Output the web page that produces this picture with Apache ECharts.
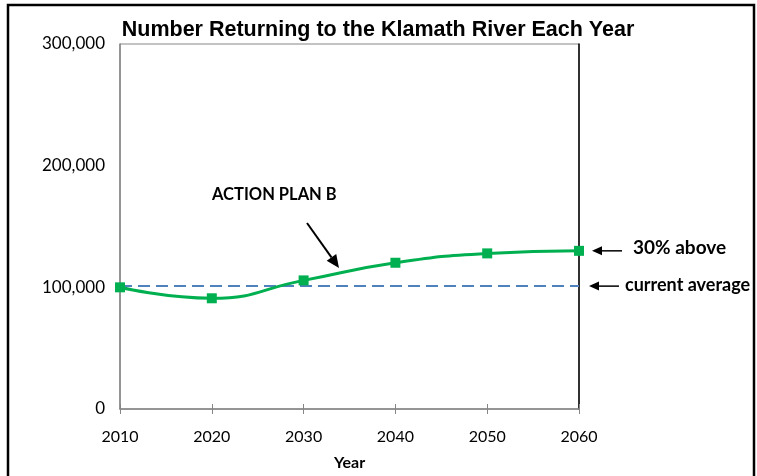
<!DOCTYPE html>
<html>
<head>
<meta charset="utf-8">
<script src="https://cdn.jsdelivr.net/npm/echarts@6/dist/echarts.min.js"></script>
<style>
    html, body { margin: 0; padding: 0; background: #fff; }
    #chart { width: 757px; height: 476px; }
</style>
</head>
<body>
<div id="chart"></div>
<script>
// values
const years = [2010, 2020, 2030, 2040, 2050, 2060];
const returning = [100000, 91000, 105700, 120200, 127900, 130000];
const currentAverage = [101000, 101000, 101000, 101000, 101000, 101000];
const yTicks = [0, 100000, 200000, 300000];

const labelFont = "Lato, 'Open Sans', sans-serif";
const colorGreen = "#00b050";
const colorBlue = "#4f81bd";
const colorAxis = "#868686";

const chart = echarts.init(document.getElementById("chart"));

function fmt(v) {
    return v.toLocaleString("en-US");
}

chart.setOption({
    animation: false,
    title: {
        text: "Number Returning to the Klamath River Each Year",
        left: 373,
        textAlign: "center",
        top: 14,
        textStyle: {
            fontFamily: "'Liberation Sans', Arial, sans-serif",
            fontSize: 21.5,
            fontWeight: "bold",
            color: "#000"
        }
    },
    grid: {
        left: 120,
        right: 178,
        top: 44,
        bottom: 66,
        show: true,
        borderColor: colorAxis,
        borderWidth: 1
    },
    xAxis: [
        {
            type: "value",
            min: 2010,
            max: 2060,
            interval: 10,
            name: "Year",
            nameLocation: "middle",
            nameGap: 46,
            nameTextStyle: {
                fontFamily: labelFont,
                fontSize: 16,
                fontWeight: "bold",
                color: "#000"
            },
            axisLine: { lineStyle: { color: colorAxis, width: 1.5 } },
            axisTick: { show: true, length: 5, lineStyle: { color: colorAxis } },
            axisLabel: {
                margin: 20,
                fontFamily: labelFont,
                fontSize: 16,
                color: "#000",
                formatter: v => String(v)
            },
            splitLine: { show: false }
        },
        {
            type: "value",
            position: "bottom",
            min: 2010,
            max: 2060,
            interval: 10,
            axisLine: { show: false },
            axisTick: { show: true, inside: true, length: 5, lineStyle: { color: colorAxis } },
            axisLabel: { show: false },
            splitLine: { show: false }
        }
    ],
    yAxis: [
        {
            type: "value",
            min: 0,
            max: 300000,
            interval: 100000,
            axisLine: { show: true, lineStyle: { color: colorAxis, width: 1.5 } },
            axisTick: { show: false },
            axisLabel: {
                margin: 15,
                fontFamily: labelFont,
                fontSize: 17,
                color: "#000",
                formatter: v => yTicks.includes(v) ? fmt(v) : ""
            },
            splitLine: { show: false }
        },
        {
            type: "value",
            position: "right",
            min: 0,
            max: 300000,
            interval: 100000,
            axisLine: { show: true, lineStyle: { color: "#000", width: 1.5 } },
            axisTick: { show: false },
            axisLabel: { show: false },
            splitLine: { show: false }
        }
    ],
    series: [
        {
            name: "Current average",
            type: "line",
            data: years.map((y, i) => [y, currentAverage[i]]),
            symbol: "none",
            lineStyle: { color: colorBlue, width: 2, type: [12, 6] },
            z: 2
        },
        {
            name: "Action Plan B",
            type: "line",
            data: years.map((y, i) => [y, returning[i]]),
            smooth: 0.5,
            symbol: "rect",
            symbolSize: 10,
            itemStyle: { color: colorGreen },
            lineStyle: { color: colorGreen, width: 3 },
            z: 3
        }
    ]
});

// annotations: outer frame, arrows and notes
const toPx = (x, y) => chart.convertToPixel({ xAxisIndex: 0, yAxisIndex: 0 }, [x, y]);
const last = years.length - 1;
const pPlan = toPx(years[last], returning[last]);
const pAvg = toPx(years[last], currentAverage[last]);

function arrow(x1, y1, x2, y2, head, width) {
    const ang = Math.atan2(y2 - y1, x2 - x1);
    const hx = x2 - head * Math.cos(ang);
    const hy = y2 - head * Math.sin(ang);
    const px = Math.sin(ang) * head * 0.45;
    const py = -Math.cos(ang) * head * 0.45;
    return [
        { type: "line", shape: { x1, y1, x2: hx, y2: hy }, style: { stroke: "#000", lineWidth: width } },
        { type: "polygon", shape: { points: [[x2, y2], [hx + px, hy + py], [hx - px, hy - py]] }, style: { fill: "#000" } }
    ];
}

chart.setOption({
    graphic: [
        { type: "rect", shape: { x: 8, y: 5, width: 746, height: 480 }, style: { fill: null, stroke: "#000", lineWidth: 2.5 }, silent: true },
        { type: "text", x: 212, y: 186, style: { text: "ACTION PLAN B", font: "bold 16.5px " + labelFont, fill: "#000" } },
        ...arrow(307, 223, 339, 268, 13, 2),
        ...arrow(pPlan[0] + 43, pPlan[1], pPlan[0] + 13, pPlan[1], 10, 1.5),
        { type: "text", x: 633, y: pPlan[1] - 12, style: { text: "30% above", font: "bold 19px " + labelFont, fill: "#000" } },
        ...arrow(pAvg[0] + 40, pAvg[1], pAvg[0] + 10, pAvg[1], 10, 1.5),
        { type: "text", x: 625, y: pAvg[1] - 10, style: { text: "current average", font: "bold 18px " + labelFont, fill: "#000" } }
    ]
});
</script>
</body>
</html>
